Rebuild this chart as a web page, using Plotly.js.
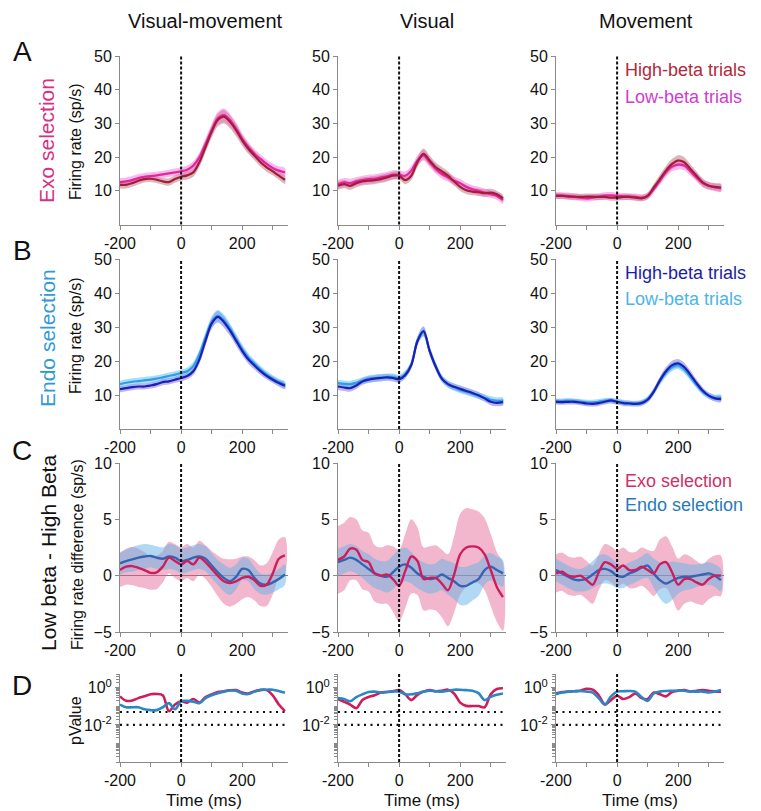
<!DOCTYPE html>
<html><head><meta charset="utf-8">
<script src="https://cdn.plot.ly/plotly-3.0.1.min.js"></script>
<style>html,body{margin:0;padding:0;background:#fff}#chart{width:761px;height:811px}</style>
</head><body><div id="chart"></div>
<script>
// ---------- DATA ----------
const time = [-200,-180,-160,-140,-120,-100,-80,-60,-40,-20,0,20,40,60,80,100,120,140,160,180,200,220,240,260,280,300,320,340];
const eventTime = 0;
const columnTitles = ['Visual-movement','Visual','Movement'];
const timeTicks = [-200,0,200];
const timeTickText = ['-200','0','200'];
const timeMinorTicks = [-100,100,300];
const rateTicks = [10,20,30,40,50];
const diffTicks = [-5,0,5,10];
const pTicks = [1,0.01];
const pTickText = ['10<sup>0</sup>','10<sup>-2</sup>'];
const pThresholds = [0.05,0.01];

// Row A: Exo selection, firing rate (sp/s)
const exoHighVM = [11.8,11.8,12.3,13.0,13.5,13.6,13.3,12.8,12.6,13.5,14.2,14.6,15.5,18.5,23.0,27.5,31.0,32.0,30.5,28.0,25.0,22.5,20.5,18.5,17.0,15.8,14.5,13.3];
const exoLowVM  = [12.6,12.8,13.2,13.8,14.2,14.4,14.6,14.9,15.2,15.5,15.8,16.3,17.5,20.0,24.0,28.0,31.5,32.5,31.0,28.5,25.5,23.0,21.0,19.5,18.0,16.8,16.0,15.5];
const exoHighV  = [11.5,12.0,11.5,12.3,12.8,13.0,13.2,13.5,14.0,14.5,14.5,13.2,14.5,18.5,21.0,19.0,17.0,15.8,14.5,12.8,11.2,10.2,9.8,9.6,9.3,9.5,9.0,7.8];
const exoLowV   = [12.0,12.5,12.3,12.8,13.2,13.5,13.6,14.0,14.3,14.8,14.8,14.5,16.0,19.0,20.5,18.5,16.5,15.0,14.0,13.0,12.3,11.2,10.5,10.0,9.5,9.0,8.5,7.3];
const exoHighM  = [8.5,8.5,8.3,8.3,8.2,8.3,8.3,8.2,8.2,8.0,8.0,8.2,8.2,8.0,7.8,8.5,11.0,13.5,16.0,18.0,19.0,18.5,16.5,14.5,12.5,11.5,11.2,11.0];
const exoLowM   = [8.7,8.6,8.5,8.2,8.0,7.8,8.0,8.3,8.6,8.7,8.5,8.4,8.3,8.2,8.0,8.5,10.5,13.0,15.5,17.2,17.8,17.5,15.8,14.0,12.3,11.5,11.0,10.8];
const exoHighSemVM = [1.1,1.1,1.1,1.1,1.0,1.0,1.0,1.0,1.1,1.1,1.1,1.2,1.3,1.4,1.6,1.8,1.9,2.0,1.9,1.8,1.6,1.5,1.4,1.3,1.3,1.2,1.2,1.2];
const exoLowSemVM  = [1.2,1.2,1.2,1.2,1.1,1.1,1.1,1.1,1.1,1.1,1.2,1.2,1.3,1.4,1.6,1.8,1.9,2.0,1.9,1.8,1.6,1.5,1.4,1.3,1.3,1.3,1.3,1.3];
const exoHighSemV  = [1.2,1.2,1.2,1.2,1.2,1.2,1.2,1.2,1.2,1.2,1.2,1.2,1.3,1.5,1.6,1.5,1.4,1.3,1.3,1.2,1.2,1.1,1.1,1.1,1.1,1.1,1.0,1.0];
const exoLowSemV   = [1.3,1.3,1.3,1.3,1.3,1.3,1.3,1.3,1.3,1.3,1.3,1.3,1.4,1.5,1.6,1.5,1.4,1.3,1.3,1.3,1.2,1.2,1.2,1.2,1.2,1.1,1.1,1.1];
const exoHighSemM  = [0.9,0.9,0.9,0.9,0.9,0.9,0.9,0.9,0.9,0.9,0.9,0.9,0.9,0.9,0.9,1.0,1.1,1.3,1.4,1.5,1.6,1.5,1.4,1.3,1.2,1.1,1.1,1.1];
const exoLowSemM   = [1.0,1.0,1.0,1.0,1.0,1.0,1.0,1.0,1.0,1.0,1.0,1.0,1.0,1.0,1.0,1.0,1.1,1.2,1.3,1.4,1.5,1.4,1.3,1.2,1.2,1.1,1.1,1.1];

// Row B: Endo selection, firing rate (sp/s)
const endoHighVM = [11.7,12.0,12.3,12.5,12.5,12.8,13.2,13.8,14.0,14.5,15.0,15.6,17.0,20.5,26.0,31.0,33.0,31.5,29.0,26.0,23.0,20.5,18.7,17.0,15.6,14.5,13.5,12.7];
const endoLowVM  = [13.2,13.6,13.9,14.1,14.3,14.5,14.8,15.2,15.6,16.0,16.5,17.0,18.5,22.0,27.0,31.5,33.3,32.0,29.5,26.5,23.5,21.0,19.2,17.5,16.0,14.8,13.8,13.0];
const endoHighV  = [12.5,12.2,12.0,12.8,14.0,14.5,14.8,15.0,15.2,15.0,14.6,15.8,18.8,25.8,28.8,23.0,18.3,14.8,13.2,12.4,11.8,11.2,10.6,9.9,9.0,8.0,7.7,7.9];
const endoLowV   = [13.5,13.3,13.2,13.6,14.2,14.8,15.0,15.2,15.3,15.3,15.0,16.2,19.0,26.0,28.5,23.0,18.5,14.8,13.2,12.3,11.5,11.0,10.4,9.8,9.2,8.6,8.3,8.2];
const endoHighM  = [8.0,7.9,8.0,8.0,7.8,7.5,7.4,7.6,8.0,8.4,8.0,7.6,7.5,7.4,7.6,8.6,11.0,14.3,17.0,18.8,19.3,18.2,16.0,13.5,11.3,9.8,9.0,8.8];
const endoLowM   = [8.2,8.2,8.3,8.2,8.0,7.8,7.8,8.0,8.3,8.3,8.0,7.8,7.6,7.5,7.8,8.8,11.0,14.0,16.5,18.2,18.8,17.5,15.3,13.0,11.0,9.8,9.2,9.2];
const endoHighSemVM = [0.9,0.9,0.9,0.9,0.9,0.9,0.9,0.9,0.9,0.9,1.0,1.0,1.1,1.3,1.5,1.6,1.7,1.7,1.6,1.5,1.4,1.3,1.2,1.1,1.0,1.0,1.0,1.0];
const endoLowSemVM  = [1.0,1.0,1.0,1.0,1.0,1.0,1.0,1.0,1.0,1.0,1.0,1.1,1.2,1.3,1.5,1.6,1.7,1.7,1.6,1.5,1.4,1.3,1.2,1.1,1.1,1.0,1.0,1.0];
const endoHighSemV  = [1.0,1.0,1.0,1.0,1.0,1.0,1.0,1.0,1.0,1.0,1.0,1.0,1.1,1.3,1.4,1.3,1.1,1.0,1.0,1.0,1.0,1.0,1.0,1.0,1.0,1.0,1.0,1.0];
const endoLowSemV   = [1.0,1.0,1.0,1.0,1.0,1.0,1.0,1.0,1.0,1.0,1.0,1.0,1.1,1.3,1.4,1.3,1.1,1.0,1.0,1.0,1.0,1.0,1.0,1.0,1.0,1.0,1.0,1.0];
const endoHighSemM  = [0.8,0.8,0.8,0.8,0.8,0.8,0.8,0.8,0.8,0.8,0.8,0.8,0.8,0.8,0.8,0.9,1.0,1.1,1.2,1.3,1.3,1.3,1.2,1.1,1.0,0.9,0.9,0.9];
const endoLowSemM   = [0.8,0.8,0.8,0.8,0.8,0.8,0.8,0.8,0.8,0.8,0.8,0.8,0.8,0.8,0.8,0.9,1.0,1.1,1.2,1.2,1.2,1.2,1.1,1.0,1.0,0.9,0.9,0.9];

// Row C: Low beta - High beta difference (sp/s)
const exoDiffVM  = [0.5,0.8,0.85,0.7,0.5,0.25,0.3,0.8,1.6,1.3,1.0,1.3,1.0,1.6,1.2,0.6,0.0,-0.5,-0.65,-0.5,-0.2,-0.1,-0.4,-0.9,-0.8,0.2,1.5,1.8];
const endoDiffVM = [1.1,1.3,1.45,1.6,1.7,1.75,1.6,1.5,1.7,1.6,1.3,1.4,1.6,1.7,1.5,0.9,0.3,-0.2,-0.5,-0.1,0.6,0.5,-0.2,-0.7,-0.8,-0.6,-0.3,0.1];
const exoDiffV   = [1.4,1.7,2.4,2.3,1.4,1.2,0.2,0.0,0.1,-0.3,-0.9,0.4,1.7,1.3,-0.3,-0.2,-0.2,-0.7,-1.3,0.1,1.9,2.5,2.6,2.5,1.9,0.5,-1.0,-1.9];
const endoDiffV  = [1.2,1.4,1.6,1.4,1.0,0.6,0.2,0.0,-0.1,0.3,0.8,1.0,0.7,0.2,-0.1,-0.3,-0.2,0.1,-0.2,-0.5,-0.9,-0.9,-0.6,-0.3,0.5,0.8,0.5,0.2];
const exoDiffM   = [0.2,0.35,0.0,-0.1,0.0,-0.4,-0.8,0.3,1.2,1.0,0.6,0.9,0.5,0.5,0.8,0.5,0.2,1.0,1.2,0.3,-0.8,-0.3,-0.3,-0.6,-0.8,-0.3,0.0,0.0];
const endoDiffM  = [0.5,0.2,-0.1,-0.35,-0.4,-0.25,0.1,0.5,0.6,0.4,0.0,-0.1,0.2,0.4,0.7,0.9,0.2,-0.4,-0.7,-0.45,-0.2,-0.1,-0.1,0.0,0.1,0.2,0.0,-0.4];
const exoSemVM  = [1.5,1.6,1.7,1.7,1.6,1.5,1.5,1.4,1.4,1.5,1.5,1.5,1.5,1.5,1.5,1.6,1.8,2.0,2.1,2.0,1.9,1.8,1.8,1.8,1.9,1.9,1.7,1.6];
const endoSemVM = [1.0,1.0,1.1,1.1,1.1,1.0,1.0,1.0,1.1,1.1,1.1,1.1,1.1,1.1,1.1,1.1,1.1,1.2,1.2,1.1,1.0,1.0,1.0,0.9,0.9,0.9,0.9,0.9];
const exoSemV   = [3.0,3.0,2.8,2.7,2.6,2.6,2.5,2.5,2.6,2.9,3.2,3.3,3.3,3.0,2.8,2.8,2.9,3.0,3.2,3.4,3.6,3.5,3.3,3.2,3.2,3.2,3.1,3.0];
const endoSemV  = [1.2,1.2,1.2,1.2,1.2,1.3,1.3,1.3,1.4,1.5,1.5,1.5,1.4,1.3,1.3,1.3,1.3,1.4,1.5,1.6,1.7,1.7,1.6,1.5,1.3,1.2,1.2,1.2];
const exoSemM   = [1.7,1.7,1.7,1.7,1.7,1.7,1.7,1.6,1.6,1.6,1.6,1.6,1.6,1.6,1.7,1.8,2.0,2.2,2.3,2.3,2.3,2.2,2.0,1.9,1.8,1.8,1.8,1.8];
const endoSemM  = [1.0,1.0,1.0,1.0,1.0,1.1,1.2,1.3,1.3,1.2,1.1,1.0,1.0,1.0,1.0,1.1,1.3,1.6,1.8,1.7,1.4,1.2,1.1,1.0,1.0,1.0,1.0,1.0];

// Row D: p values
const pExoVM  = [0.35,0.2,0.21,0.28,0.35,0.45,0.47,0.4,0.056,0.126,0.19,0.16,0.25,0.16,0.32,0.45,0.6,0.66,0.74,0.76,0.56,0.5,0.66,0.76,0.76,0.4,0.126,0.056];
const pEndoVM = [0.126,0.09,0.09,0.09,0.07,0.063,0.063,0.09,0.15,0.07,0.19,0.2,0.18,0.15,0.28,0.4,0.52,0.63,0.72,0.7,0.5,0.47,0.63,0.8,0.8,0.8,0.68,0.54];
const pExoV   = [0.25,0.18,0.126,0.08,0.22,0.32,0.4,0.56,0.6,0.66,0.76,0.45,0.22,0.42,0.63,0.76,0.66,0.7,0.8,0.5,0.16,0.107,0.105,0.105,0.09,0.45,0.87,0.95];
const pEndoV  = [0.28,0.25,0.19,0.32,0.45,0.6,0.63,0.56,0.6,0.63,0.63,0.45,0.45,0.52,0.63,0.7,0.66,0.63,0.7,0.8,0.8,0.76,0.7,0.52,0.22,0.33,0.42,0.5];
const pExoM   = [0.5,0.6,0.63,0.66,0.7,0.9,0.8,0.4,0.126,0.22,0.38,0.25,0.32,0.5,0.28,0.25,0.56,0.45,0.35,0.6,0.7,0.76,0.63,0.7,0.76,0.7,0.63,0.63];
const pEndoM  = [0.46,0.56,0.63,0.66,0.68,0.63,0.56,0.28,0.126,0.35,0.63,0.66,0.68,0.63,0.32,0.2,0.5,0.63,0.68,0.7,0.72,0.7,0.63,0.63,0.63,0.56,0.63,0.76];

// ---------- STYLE / LAYOUT ----------
const FONT = 'Liberation Sans, Arial, Helvetica, sans-serif';
const W = 761, H = 811;
const colPx = [[120,288],[338,506],[556,724]];
const rowPx = [[56,224.6],[259,429],[463,632],[674,762]];
const AX = '#8a8a8a';
const TXT = '#111';

const C = {
  aHi:'#a31d3b', aLo:'#e4259f', aHiBand:'rgba(175,95,105,0.45)', aLoBand:'rgba(238,95,205,0.42)',
  bHi:'#1e1eb4', bLo:'#2c9fe6', bHiBand:'rgba(110,90,220,0.45)', bLoBand:'rgba(90,190,245,0.5)',
  exo:'#d11c5c', endo:'#3565b0', exoBand:'rgba(226,95,145,0.45)', endoBand:'rgba(100,180,232,0.5)',
  endoP:'#2b86c5'
};

const traces = [];
const layout = {
  width: W, height: H, margin:{l:0,r:0,t:0,b:0},
  paper_bgcolor:'#fff', plot_bgcolor:'rgba(0,0,0,0)', showlegend:false,
  font:{family:FONT, size:16, color:TXT}, shapes:[], annotations:[]
};

function sfx(k){ return k===1 ? '' : String(k); }
function band(m, s, color, k){
  const up = m.map((v,i)=>v+s[i]);
  const lo = m.map((v,i)=>v-s[i]);
  return {x: time.concat(time.slice().reverse()), y: up.concat(lo.slice().reverse()),
    mode:'lines', fill:'toself', fillcolor:color, line:{width:0, shape:'spline', smoothing:0.9},
    hoverinfo:'skip', xaxis:'x'+sfx(k), yaxis:'y'+sfx(k)};
}
function line(y, color, w, k){
  return {x: time, y: y, mode:'lines', line:{color:color, width:w, shape:'spline', smoothing:0.9},
    hoverinfo:'skip', xaxis:'x'+sfx(k), yaxis:'y'+sfx(k)};
}

const rowA = [[exoHighVM,exoLowVM,exoHighSemVM,exoLowSemVM],[exoHighV,exoLowV,exoHighSemV,exoLowSemV],[exoHighM,exoLowM,exoHighSemM,exoLowSemM]];
const rowB = [[endoHighVM,endoLowVM,endoHighSemVM,endoLowSemVM],[endoHighV,endoLowV,endoHighSemV,endoLowSemV],[endoHighM,endoLowM,endoHighSemM,endoLowSemM]];
const rowC = [[exoDiffVM,endoDiffVM,exoSemVM,endoSemVM],[exoDiffV,endoDiffV,exoSemV,endoSemV],[exoDiffM,endoDiffM,exoSemM,endoSemM]];
const rowD = [[pExoVM,pEndoVM],[pExoV,pEndoV],[pExoM,pEndoM]];

const minorP = [];
for (let e=-4; e<=0; e++) for (let d=1; d<=9; d++) { const v=d*Math.pow(10,e); if (v<5.6 && !(d===1 && (e===0 || e===-2))) minorP.push(v); }

for (let r=0; r<4; r++){
  for (let c=0; c<3; c++){
    const k = r*3+c+1, s = sfx(k);
    layout['xaxis'+s] = {
      domain:[colPx[c][0]/W, colPx[c][1]/W], anchor:'y'+s, range:[-200,350],
      tickmode:'array', tickvals:timeTicks, ticktext:timeTickText,
      ticks:'outside', ticklen:4, tickwidth:1, tickcolor:AX,
      minor:{tickmode:'array', tickvals:timeMinorTicks, ticks:'outside', ticklen:4, tickwidth:1, tickcolor:AX, showgrid:false},
      showline:true, linecolor:AX, linewidth:1, showgrid:false, zeroline:false,
      tickfont:{size:16, color:TXT, family:FONT}, fixedrange:true
    };
    const ya = {
      domain:[1-rowPx[r][1]/H, 1-rowPx[r][0]/H], anchor:'x'+s,
      ticks:'outside', ticklen:4, tickwidth:1, tickcolor:AX,
      showline:true, linecolor:AX, linewidth:1, showgrid:false, zeroline:false,
      tickfont:{size:16, color:TXT, family:FONT}, fixedrange:true, tickmode:'array'
    };
    if (r<2){ ya.range=[0,50]; ya.tickvals=rateTicks; }
    else if (r===2){ ya.range=[-5,10]; ya.tickvals=diffTicks; ya.zeroline=true; ya.zerolinecolor='#7a7a7a'; ya.zerolinewidth=1; }
    else {
      ya.type='log'; ya.range=[-4,0.75]; ya.tickvals=pTicks; ya.ticktext=pTickText;
      ya.minor={tickmode:'array', tickvals:minorP, ticks:'outside', ticklen:3, tickwidth:1, tickcolor:AX, showgrid:false};
    }
    layout['yaxis'+s] = ya;

    if (r===0){
      const [hi,lo,hs,ls] = rowA[c];
      traces.push(band(hi,hs,C.aHiBand,k), band(lo,ls,C.aLoBand,k), line(lo,C.aLo,2.2,k), line(hi,C.aHi,2.2,k));
    } else if (r===1){
      const [hi,lo,hs,ls] = rowB[c];
      traces.push(band(hi,hs,C.bHiBand,k), band(lo,ls,C.bLoBand,k), line(lo,C.bLo,2.2,k), line(hi,C.bHi,2.2,k));
    } else if (r===2){
      const [ex,en,es,ns] = rowC[c];
      traces.push(band(ex,es,C.exoBand,k), band(en,ns,C.endoBand,k), line(en,C.endo,2.4,k), line(ex,C.exo,2.4,k));
    } else {
      const [pe,pn] = rowD[c];
      pThresholds.forEach(p => traces.push({x:[time[0], time[time.length-1]], y:[p,p], mode:'lines',
        line:{color:'#111', width:2.2, dash:'2px,4.5px'}, hoverinfo:'skip', xaxis:'x'+s, yaxis:'y'+s}));
      traces.push(line(pe,C.exo,2.6,k), line(pn,C.endoP,2.6,k));
    }
    layout.shapes.push({type:'line', xref:'x'+s, yref:'y'+s+' domain', x0:eventTime, x1:eventTime, y0:0, y1:1,
      line:{color:'#111', width:2, dash:'3px,2px'}, layer:'above'});
  }
}

function ann(text, xpx, ypx, size, color, extra){
  return Object.assign({text:text, xref:'paper', yref:'paper', x:xpx/W, y:1-ypx/H,
    xanchor:'center', yanchor:'middle', showarrow:false,
    font:{family:FONT, size:size, color:color}}, extra||{});
}
const titleX = [205,427,646];
columnTitles.forEach((t,i)=>layout.annotations.push(ann(t, titleX[i], 21, 20, TXT)));
[['A',52],['B',251],['C',450],['D',685]].forEach(([l,y])=>layout.annotations.push(ann(l, 22, y, 28, TXT)));
layout.annotations.push(ann('Exo selection', 47, 141, 21, '#d62f83', {textangle:-90}));
layout.annotations.push(ann('Firing rate (sp/s)', 75, 142, 16, TXT, {textangle:-90}));
layout.annotations.push(ann('Endo selection', 47, 338, 21, '#2f9ad3', {textangle:-90}));
layout.annotations.push(ann('Firing rate (sp/s)', 75, 336, 16, TXT, {textangle:-90}));
layout.annotations.push(ann('Low beta - High Beta', 48, 553, 21, TXT, {textangle:-90}));
layout.annotations.push(ann('Firing rate difference (sp/s)', 77, 555, 16, TXT, {textangle:-90}));
layout.annotations.push(ann('pValue', 75, 721, 16, TXT, {textangle:-90}));
const legX = 623;
layout.annotations.push(ann('High-beta trials', legX, 70, 18, '#b3283a', {xanchor:'left'}));
layout.annotations.push(ann('Low-beta trials', legX, 97, 18, '#d23bcd', {xanchor:'left'}));
layout.annotations.push(ann('High-beta trials', legX, 273, 18, '#1c1ca8', {xanchor:'left'}));
layout.annotations.push(ann('Low-beta trials', legX, 299, 18, '#4bb5e8', {xanchor:'left'}));
layout.annotations.push(ann('Exo selection', legX, 481, 18, '#d02f66', {xanchor:'left'}));
layout.annotations.push(ann('Endo selection', legX, 505, 18, '#2a7ab8', {xanchor:'left'}));
[204,422,640].forEach(x=>layout.annotations.push(ann('Time (ms)', x, 800, 17, TXT)));

Plotly.newPlot('chart', traces, layout, {displayModeBar:false, staticPlot:true});
</script>
</body></html>
